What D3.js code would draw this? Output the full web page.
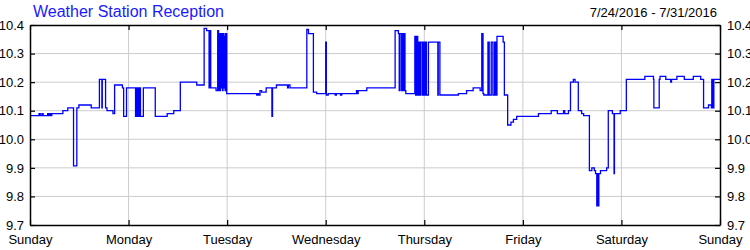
<!DOCTYPE html>
<html>
<head>
<meta charset="utf-8">
<script src="https://cdn.jsdelivr.net/npm/d3@7"></script>
<style>
    body { margin: 0; background: #fff; }
    text { font-family: Arial, "Liberation Sans", sans-serif; }
</style>
</head>
<body>
<div id="chart"></div>
<script>
// chart texts
let title = 'Weather Station Reception';
let dateRange = '7/24/2016 - 7/31/2016';

// tick labels
let dayLabels = ['Sunday', 'Monday', 'Tuesday', 'Wednesday', 'Thursday', 'Friday', 'Saturday', 'Sunday'];
let yTicks = [9.7, 9.8, 9.9, 10.0, 10.1, 10.2, 10.3, 10.4];

// readings as [hours since Sunday 0:00, value], one array per day
let sunday = [
    [0, 10.083], [2.2, 10.09], [2.5, 10.083], [2.9, 10.09], [3.2, 10.083],
    [4.3, 10.09], [4.6, 10.083], [4.9, 10.09], [5.1, 10.083], [5.3, 10.09],
    [8.0, 10.10], [9.2, 10.11], [10.6, 9.907], [11.4, 10.11], [11.9, 10.12],
    [14.9, 10.11], [16.9, 10.21], [17.5, 10.11], [17.6, 10.21], [18.4, 10.11],
    [18.75, 10.10], [20.2, 10.09], [20.6, 10.19], [22.5, 10.18], [22.8, 10.08],
    [23.5, 10.18]
];
let monday = [
    [25.7, 10.08], [25.9, 10.18], [26.1, 10.08], [26.3, 10.18], [26.5, 10.08],
    [26.7, 10.18], [26.9, 10.08], [27.6, 10.18], [30.5, 10.08], [33.4, 10.09],
    [35.0, 10.10], [36.6, 10.20], [40.6, 10.19], [42.4, 10.388], [43.0, 10.38],
    [43.6, 10.18], [43.8, 10.38], [44.0, 10.18], [45.3, 10.17], [45.7, 10.38],
    [45.9, 10.17], [46.0, 10.37], [46.3, 10.17], [46.4, 10.37], [46.6, 10.18],
    [46.7, 10.37], [46.9, 10.17], [47.0, 10.37], [47.2, 10.18], [47.3, 10.36],
    [47.5, 10.17], [47.6, 10.37], [47.9, 10.16]
];
let tuesday = [
    [55.2, 10.155], [55.5, 10.16], [55.7, 10.155], [56.0, 10.17], [56.4, 10.165],
    [57.5, 10.18], [58.9, 10.08], [59.05, 10.18], [60.0, 10.19], [62.7, 10.18],
    [62.9, 10.19], [63.3, 10.18], [67.4, 10.385], [67.8, 10.37], [69.0, 10.165],
    [69.8, 10.16]
];
let wednesday = [
    [72.0, 10.34], [72.15, 10.155], [72.6, 10.16], [74.3, 10.155], [74.6, 10.16],
    [75.6, 10.155], [75.9, 10.16], [79.5, 10.17], [79.7, 10.16], [79.9, 10.17],
    [82.0, 10.18], [88.9, 10.38], [89.7, 10.37], [89.9, 10.17], [90.1, 10.37],
    [90.5, 10.17], [90.6, 10.37], [90.8, 10.17], [91.0, 10.37], [91.3, 10.17],
    [91.5, 10.16], [93.7, 10.36], [93.9, 10.155], [94.1, 10.36], [94.4, 10.155],
    [94.6, 10.34], [94.9, 10.155], [95.1, 10.34], [95.5, 10.155], [95.7, 10.34]
];
let thursday = [
    [96.0, 10.155], [96.2, 10.34], [96.5, 10.155], [97.0, 10.34], [99.3, 10.155],
    [99.4, 10.34], [99.8, 10.155], [104.3, 10.16], [106.3, 10.17], [107.9, 10.18],
    [109.6, 10.17], [110.0, 10.37], [110.3, 10.16], [110.5, 10.155], [111.5, 10.34],
    [111.8, 10.155], [112.3, 10.34], [112.7, 10.155], [113.1, 10.34], [113.4, 10.155],
    [113.7, 10.36], [115.2, 10.34], [115.5, 10.155], [116.3, 10.05], [117.1, 10.06],
    [117.7, 10.07], [118.5, 10.08]
];
let friday = [
    [123.8, 10.09], [126.9, 10.10], [128.4, 10.09], [129.9, 10.10], [130.2, 10.09],
    [131.1, 10.10], [131.6, 10.20], [132.3, 10.21], [132.7, 10.20], [133.5, 10.10],
    [134.3, 10.09], [134.8, 10.083], [136.2, 9.89], [136.8, 9.90], [137.4, 9.89],
    [137.7, 9.88], [138.0, 9.767], [138.2, 9.88], [138.3, 9.767], [138.5, 9.88],
    [138.9, 9.89], [140.4, 9.90], [140.8, 10.10], [141.8, 10.09], [142.2, 9.88],
    [142.3, 10.09], [143.7, 10.10]
];
let saturday = [
    [145.2, 10.21], [149.7, 10.22], [151.8, 10.21], [151.9, 10.11], [153.2, 10.21],
    [153.4, 10.22], [154.8, 10.21], [156.0, 10.20], [156.2, 10.21], [157.5, 10.22],
    [159.3, 10.21], [161.5, 10.22], [163.3, 10.21], [164.0, 10.11], [165.2, 10.12],
    [165.9, 10.11], [166.0, 10.21], [166.1, 10.11], [166.3, 10.21], [166.4, 10.11],
    [166.5, 10.21], [168, 10.21]
];

let readings = [].concat(sunday, monday, tuesday, wednesday, thursday, friday, saturday);

// chart dimensions
let dim = { 'width': 750, 'height': 250 };
let margin = { top: 25, right: 30, bottom: 25, left: 30 };

let svg = d3.select('#chart')
    .append('svg')
    .attr('width', dim.width)
    .attr('height', dim.height);

let scaleX = d3.scaleLinear()
    .domain([0, 168])
    .range([margin.left, dim.width - margin.right]);

let scaleY = d3.scaleLinear()
    .domain([9.7, 10.4])
    .range([dim.height - margin.bottom, margin.top]);

let dayTicks = dayLabels.map((d, i) => i * 24);

// grid
let grid = svg.append('g')
    .attr('stroke', '#cccccc')
    .attr('stroke-width', 1);
grid.selectAll('.hgrid')
    .data(yTicks.slice(1, -1))
    .join('line')
    .attr('x1', scaleX(0)).attr('x2', scaleX(168))
    .attr('y1', d => scaleY(d)).attr('y2', d => scaleY(d));
grid.selectAll('.vgrid')
    .data(dayTicks.slice(1, -1))
    .join('line')
    .attr('y1', scaleY(9.7)).attr('y2', scaleY(10.4))
    .attr('x1', d => scaleX(d)).attr('x2', d => scaleX(d));

// the reception line
let line = d3.line()
    .curve(d3.curveStepAfter)
    .x(d => scaleX(d[0]))
    .y(d => scaleY(d[1]));

svg.append('path')
    .datum(readings)
    .attr('fill', 'none')
    .attr('stroke', '#0000ff')
    .attr('stroke-width', 1.3)
    .attr('d', line);

// axes, ticks point inward
let axisBottom = svg.append('g')
    .attr('transform', `translate(0, ${scaleY(9.7)})`)
    .call(d3.axisBottom(scaleX)
        .tickValues(dayTicks)
        .tickFormat((d, i) => dayLabels[i])
        .tickSizeInner(-5)
        .tickSizeOuter(0));
axisBottom.selectAll('text')
    .attr('dy', null)
    .attr('y', 18.5);

let axisTop = svg.append('g')
    .attr('transform', `translate(0, ${scaleY(10.4)})`)
    .call(d3.axisTop(scaleX)
        .tickValues(dayTicks)
        .tickFormat('')
        .tickSizeInner(-5)
        .tickSizeOuter(0));

let axisLeft = svg.append('g')
    .attr('transform', `translate(${scaleX(0)}, 0)`)
    .call(d3.axisLeft(scaleY)
        .tickValues(yTicks)
        .tickFormat(d3.format('.1f'))
        .tickSizeInner(-5)
        .tickSizeOuter(0)
        .tickPadding(6));

let axisRight = svg.append('g')
    .attr('transform', `translate(${scaleX(168)}, 0)`)
    .call(d3.axisRight(scaleY)
        .tickValues(yTicks)
        .tickFormat(d3.format('.1f'))
        .tickSizeInner(-5)
        .tickSizeOuter(0)
        .tickPadding(7));

// style the axes
[axisBottom, axisTop, axisLeft, axisRight].forEach(axis => {
    axis.selectAll('.domain')
        .attr('stroke', '#000')
        .attr('stroke-width', 1.5);
    axis.selectAll('line')
        .attr('stroke', '#000')
        .attr('stroke-width', 1.2);
    axis.selectAll('text')
        .attr('font-size', '13px')
        .attr('fill', '#000');
});

// titles
svg.append('text')
    .attr('x', 33)
    .attr('y', 17)
    .attr('font-size', '16px')
    .attr('fill', '#1a1aff')
    .text(title);

svg.append('text')
    .attr('x', 717)
    .attr('y', 17)
    .attr('text-anchor', 'end')
    .attr('font-size', '13px')
    .attr('fill', '#000')
    .text(dateRange);
</script>
</body>
</html>
